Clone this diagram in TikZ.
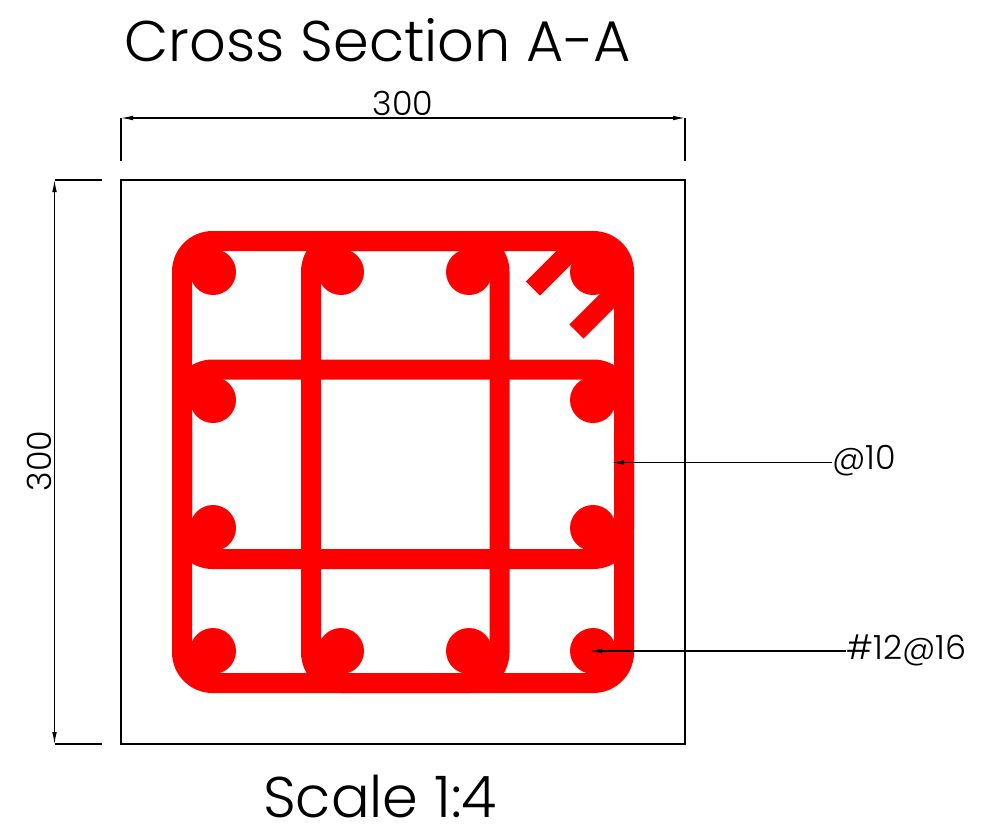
\documentclass[tikz,border=0pt]{standalone}
\usepackage{fontspec}
\setmainfont{Poppins Light}
\usetikzlibrary{arrows.meta}

\begin{document}
\begin{tikzpicture}[x=0.75pt,y=-0.75pt]
	\tikzstyle{title} = [inner sep=0pt, font=\fontsize{43pt}{43pt}\selectfont]
	\tikzstyle{dimtext} = [inner sep=0pt, font=\fontsize{25pt}{25pt}\selectfont]
	\tikzstyle{concrete} = [draw, line width=1.1pt]
	\tikzstyle{thin} = [draw, line width=0.8pt]
	\tikzstyle{rebar} = [draw=red, line width=15pt]
	\tikzstyle{tie} = [rebar, rounded corners=23pt]
	\tikzstyle{bar} = [circle, fill=red, inner sep=0pt, minimum size=34.5pt]
	\tikzset{dim/.style = {thin, {Latex[length=9pt,width=3.5pt]}-{Latex[length=9pt,width=3.5pt]}}}
	\tikzset{leader/.style = {thin, -{Latex[length=9pt,width=3.5pt]}}}
	\useasboundingbox (0,0) rectangle (995,829);

	\node[title](title) at (378,40) {Cross Section A-A};
	\node[title](scale) at (380,796) {Scale 1:4};

	\draw[concrete] (121,180) rectangle (685,744);

	% stirrup and ties
	\draw[tie] (182,241) rectangle (624,683);
	\draw[tie] (311,241) rectangle (499.5,683);
	\draw[tie] (182,369.5) rectangle (624,559);
	\draw[rebar] (533,288.5) -- (578,243.5);
	\draw[rebar] (576.5,331.5) -- (620,288);

	% bars
	\foreach \y/\r in {272/1,651/4} {
		\foreach \x/\c in {213/1,341/2,469/3,593/4} {
			\node[bar](bar\r\c) at (\x,\y) {};
		}
	}
	\foreach \y/\r in {400/2,528/3} {
		\foreach \x/\c in {213/1,593/4} {
			\node[bar](bar\r\c) at (\x,\y) {};
		}
	}

	% width
	\coordinate (wleft) at (121,118);
	\coordinate (wright) at (685,118);
	\coordinate (wleftend) at (121,161);
	\coordinate (wrightend) at (685,161);
	\draw[thin] (wleft) -- (wleftend);
	\draw[thin] (wright) -- (wrightend);
	\draw[dim] (wleft) -- (wright);
	\node[dimtext](width) at (403,103) {300};

	% height
	\coordinate (htop) at (54.5,180);
	\coordinate (hbottom) at (54.5,744);
	\coordinate (htopend) at (102,180);
	\coordinate (hbottomend) at (102,744);
	\draw[thin] (htop) -- (htopend);
	\draw[thin] (hbottom) -- (hbottomend);
	\draw[dim] (htop) -- (hbottom);
	\node[dimtext, rotate=90](height) at (39,461) {300};

	% leaders
	\node[dimtext, anchor=west](stirruplabel) at (832,461) {@10};
	\node[dimtext, anchor=west](barlabel) at (846,650) {\#12@16};
	\coordinate (stirruptip) at (612,462.5);
	\coordinate (bartip) at (590,651);
	\draw[leader] (stirruplabel.west |- stirruptip) -- (stirruptip);
	\draw[leader] (barlabel.west |- bartip) -- (bartip);
\end{tikzpicture}
\end{document}
